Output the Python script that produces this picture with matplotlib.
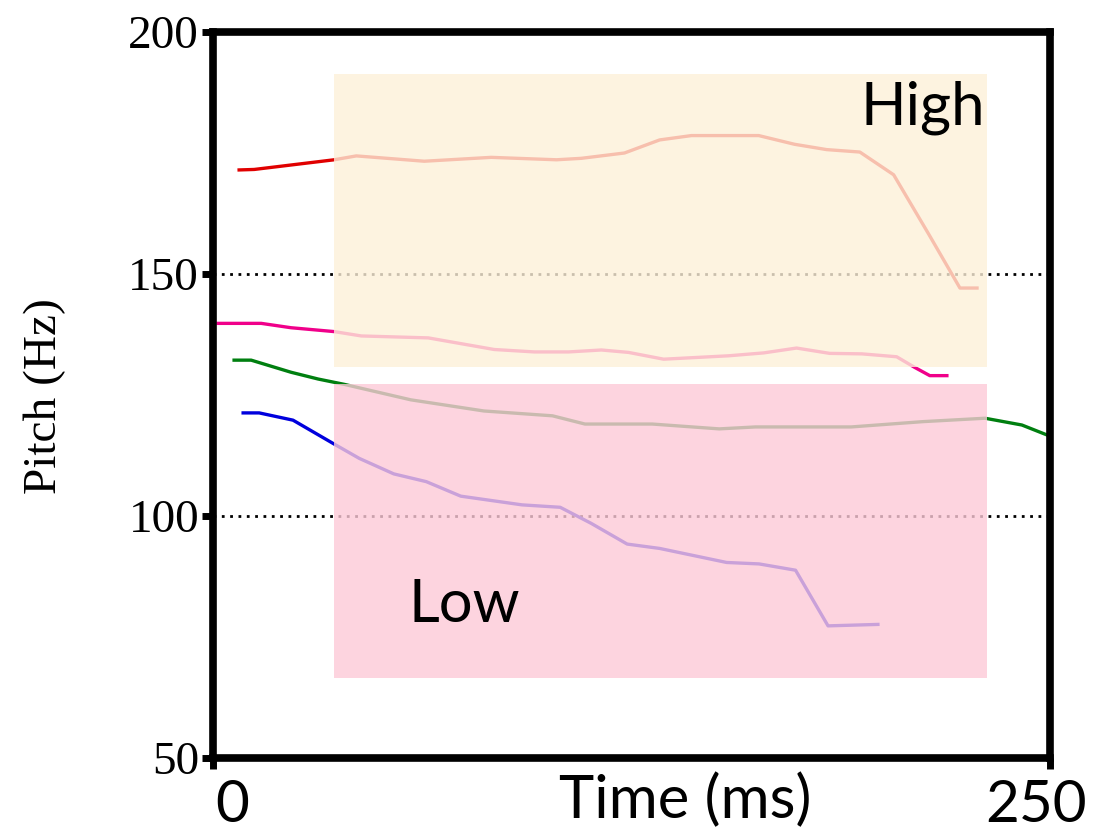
import matplotlib.pyplot as plt
from matplotlib.patches import Rectangle
from matplotlib.transforms import ScaledTranslation

# pitch tracks (time in ms, pitch in Hz)
red_t = [7.8, 12.3, 36.2, 42.8, 63.1, 83.1, 102.6, 110.0, 122.9, 133.4, 142.9, 163.0,
         173.7, 183.3, 193.2, 203.3, 213.8, 223.1, 228.2]
red_hz = [171.5, 171.6, 173.6, 174.4, 173.3, 174.1, 173.6, 173.9, 175.0, 177.7, 178.6, 178.6,
          176.8, 175.7, 175.2, 170.5, 158.2, 147.1, 147.1]

pink_t = [1.5, 14.4, 23.3, 36.2, 44.3, 64.3, 84.0, 96.0, 106.2, 116.0, 124.1, 134.6,
          154.0, 164.5, 174.3, 184.2, 193.8, 204.2, 209.6, 214.1, 219.2]
pink_hz = [139.8, 139.8, 138.9, 138.1, 137.2, 136.8, 134.4, 133.9, 133.9, 134.3, 133.8, 132.4,
           133.1, 133.7, 134.7, 133.6, 133.5, 132.9, 130.7, 129.0, 129.0]

green_t = [6.3, 11.4, 23.3, 31.4, 39.2, 59.1, 80.9, 101.4, 111.1, 131.2, 151.2, 162.0,
           190.6, 212.1, 230.6, 241.6, 250.0]
green_hz = [132.2, 132.2, 129.7, 128.3, 127.2, 124.0, 121.7, 120.7, 119.0, 119.0, 118.0, 118.4,
            118.4, 119.5, 120.2, 118.8, 116.5]

blue_t = [9.0, 13.8, 23.9, 36.1, 43.7, 54.0, 63.7, 74.0, 92.3, 103.7, 112.9, 123.7,
          133.4, 153.4, 163.1, 174.0, 183.7, 198.6]
blue_hz = [121.3, 121.3, 119.8, 114.9, 111.9, 108.7, 107.1, 104.1, 102.3, 101.8, 98.5, 94.2,
           93.3, 90.4, 90.1, 88.8, 77.3, 77.6]

tracks = [(red_t, red_hz, '#e00000'),
          (pink_t, pink_hz, '#f0008a'),
          (green_t, green_hz, '#007f10'),
          (blue_t, blue_hz, '#0000dd')]

ref_lines = [150, 100]
x_ticks = [0, 250]
y_ticks = [50, 100, 150, 200]

fig = plt.figure(figsize=(11.1, 8.33), dpi=100)
ax = fig.add_axes([213/1110, 1 - 758/833, (1050 - 213)/1110, (758 - 32)/833])

for y in ref_lines:
    ax.axhline(y, color='black', lw=2, linestyle=(0, (1, 2)), zorder=1)

for t, hz, c in tracks:
    ax.plot(t, hz, color=c, lw=2.4, zorder=2)

# shaded regions drawn over the tracks
ax.add_patch(Rectangle((36.2, 130.7), 195.0, 60.7, facecolor='#fdf0d9', alpha=0.8,
                       edgecolor='none', zorder=3))
ax.add_patch(Rectangle((36.2, 66.5), 195.0, 60.7, facecolor='#fdcad8', alpha=0.8,
                       edgecolor='none', zorder=3))

ax.text(230.6, 180.8, 'High', ha='right', va='baseline', fontsize=43, family='Lato', zorder=4)
ax.text(58.5, 78.0, 'Low', ha='left', va='baseline', fontsize=43, family='Lato', zorder=4)

ax.set_xlim(0, 250)
ax.set_ylim(50, 200)

for s in ax.spines.values():
    s.set_linewidth(5.5)
    s.set_zorder(5)

ax.set_xticks(x_ticks)
ax.set_xticklabels([str(v) for v in x_ticks], family='Lato', fontsize=42)
ax.set_yticks(y_ticks)
ax.set_yticklabels([str(v) for v in y_ticks], family='Liberation Serif', fontsize=34)
ax.tick_params(axis='both', direction='out', length=8, width=5)
ax.tick_params(axis='y', pad=2)
ax.tick_params(axis='x', pad=7)

for lbl, dx in zip(ax.get_xticklabels(), [19, -14]):
    lbl.set_transform(lbl.get_transform() + ScaledTranslation(dx/100, 0, fig.dpi_scale_trans))

fig.text(685/1110, 1 - 818/833, 'Time (ms)', ha='center', va='baseline',
         fontsize=43, family='Lato')
fig.text(45/1110, 1 - 396/833, 'Pitch (Hz)', ha='center', va='center', rotation=90,
         fontsize=34, family='Liberation Serif')

fig.savefig('out.png', dpi=100)
